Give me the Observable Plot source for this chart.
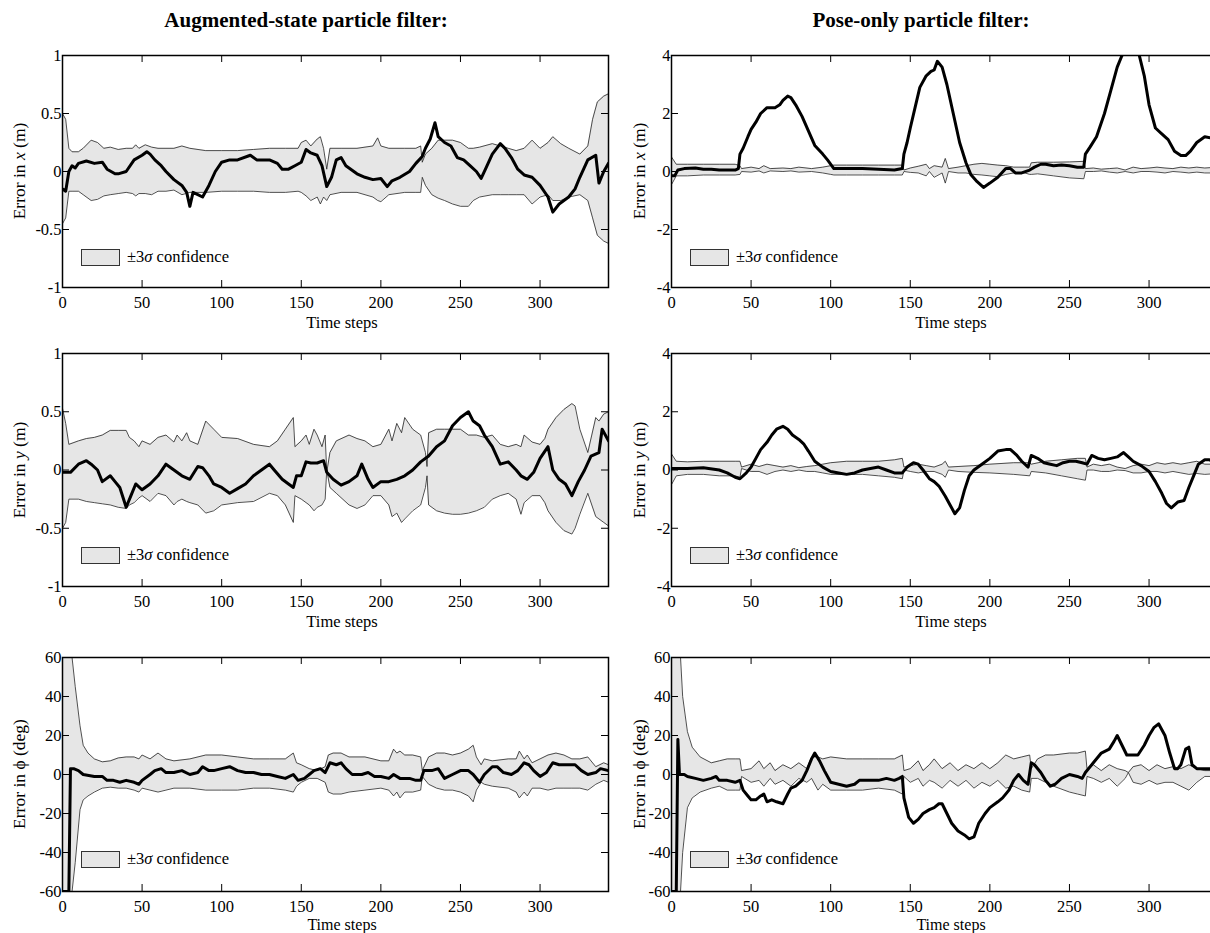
<!DOCTYPE html>
<html><head><meta charset="utf-8">
<script src="https://cdn.jsdelivr.net/npm/d3@7"></script>
<script src="https://cdn.jsdelivr.net/npm/@observablehq/plot@0.6"></script>
<style>
html,body{margin:0;padding:0;background:#fff;overflow:hidden;}
#fig{position:relative;width:1210px;height:933px;overflow:hidden;font-family:"Liberation Serif","Times New Roman",serif;color:#000;background:#fff;}
#fig svg text{font-family:"Liberation Serif","Times New Roman",serif !important;}
.abs{position:absolute;white-space:nowrap;line-height:1;}
.title{font-weight:bold;font-size:21px;transform:translate(-50%,-50%);}
.ylab{font-size:17.5px;transform:translate(-50%,-50%) rotate(-90deg);}
.xlab{font-size:16.5px;transform:translate(-50%,-50%);}
.xlab.last{font-size:16px;}
.leg{font-size:16.5px;display:flex;align-items:center;height:17px;}
.sw{display:inline-block;width:39px;height:17px;background:#e6e6e6;border:1px solid #333;box-sizing:border-box;margin-right:7px;}
</style></head>
<body><div id="fig"></div>
<script>
// ---------------- DATA ----------------
const timeTicks = [0, 50, 100, 150, 200, 250, 300];
const metreTicksAug = [-1, -0.5, 0, 0.5, 1];
const metreTicksPose = [-4, -2, 0, 2, 4];
const degTicks = [-60, -40, -20, 0, 20, 40, 60];

// Augmented-state, error in x
const augX_bandT = [0,2,4,6,10,13,18,22,26,30,35,40,44,46,48,52,56,60,65,70,75,80,90,100,110,120,130,140,148,150,153,156,160,162,164,166,168,175,185,195,198,200,205,215,222,225,226,228,232,236,240,245,250,255,258,262,270,275,280,285,290,295,300,305,308,313,318,325,330,333,336,340,343];
const augX_hi = [0.5,0.45,0.2,0.17,0.17,0.2,0.27,0.25,0.2,0.21,0.19,0.2,0.2,0.23,0.2,0.23,0.21,0.2,0.2,0.2,0.22,0.2,0.18,0.18,0.18,0.19,0.2,0.2,0.2,0.25,0.27,0.22,0.28,0.3,0.2,0.02,0.2,0.2,0.2,0.22,0.29,0.22,0.2,0.2,0.2,0.22,0.08,0.15,0.2,0.27,0.27,0.27,0.25,0.2,0.2,0.21,0.24,0.22,0.2,0.18,0.2,0.27,0.2,0.25,0.3,0.24,0.2,0.15,0.22,0.45,0.6,0.65,0.67];
const augX_lo = [-0.45,-0.4,-0.17,-0.17,-0.17,-0.2,-0.25,-0.24,-0.21,-0.2,-0.19,-0.18,-0.19,-0.21,-0.19,-0.19,-0.2,-0.17,-0.17,-0.16,-0.2,-0.18,-0.18,-0.17,-0.17,-0.17,-0.18,-0.18,-0.17,-0.18,-0.21,-0.25,-0.22,-0.28,-0.22,-0.25,-0.2,-0.18,-0.18,-0.22,-0.25,-0.26,-0.2,-0.18,-0.18,-0.18,-0.05,-0.12,-0.2,-0.23,-0.25,-0.28,-0.3,-0.3,-0.25,-0.22,-0.2,-0.2,-0.2,-0.2,-0.2,-0.28,-0.22,-0.2,-0.25,-0.25,-0.22,-0.2,-0.25,-0.4,-0.55,-0.6,-0.62];
const augX_err = [[0,-0.15],[2,-0.17],[4,0.0],[6,0.05],[8,0.03],[10,0.07],[15,0.09],[20,0.07],[25,0.08],[28,0.02],[33,-0.02],[35,-0.02],[40,0.0],[45,0.1],[50,0.14],[53,0.17],[55,0.15],[58,0.1],[62,0.05],[65,0.0],[70,-0.07],[75,-0.12],[78,-0.18],[80,-0.3],[82,-0.18],[85,-0.2],[88,-0.22],[92,-0.12],[96,0.0],[100,0.08],[105,0.1],[110,0.1],[118,0.14],[122,0.1],[130,0.1],[135,0.07],[138,0.02],[142,0.02],[146,0.05],[150,0.08],[153,0.19],[156,0.16],[160,0.14],[163,0.05],[166,-0.13],[169,-0.05],[172,0.1],[175,0.12],[178,0.05],[185,-0.02],[190,-0.05],[195,-0.07],[200,-0.06],[204,-0.13],[207,-0.08],[212,-0.05],[218,0.0],[222,0.07],[226,0.13],[228,0.2],[231,0.28],[234,0.42],[236,0.3],[240,0.25],[244,0.22],[248,0.12],[252,0.1],[256,0.05],[260,0.0],[263,-0.06],[266,0.03],[270,0.15],[275,0.24],[278,0.2],[282,0.12],[286,0.02],[290,-0.03],[295,-0.05],[300,-0.12],[305,-0.22],[308,-0.35],[312,-0.28],[318,-0.22],[322,-0.15],[325,-0.05],[330,0.1],[335,0.14],[337,-0.1],[340,0.0],[343,0.07]];

// Augmented-state, error in y
const augY_bandT = [0,2,4,10,15,20,25,30,35,40,42,45,48,50,55,60,65,70,72,75,78,80,85,90,95,100,110,120,130,135,140,145,146,150,153,155,158,160,163,165,166,168,172,180,185,190,195,200,205,207,210,213,215,220,225,228,229,230,235,240,245,250,255,260,265,270,275,280,285,288,290,295,300,303,305,310,315,320,322,325,330,335,337,340,343];
const augY_hi = [0.53,0.4,0.22,0.25,0.27,0.28,0.3,0.34,0.34,0.34,0.28,0.25,0.2,0.25,0.22,0.28,0.3,0.24,0.3,0.25,0.32,0.25,0.22,0.42,0.35,0.28,0.27,0.22,0.2,0.25,0.35,0.45,0.2,0.25,0.3,0.22,0.35,0.3,0.2,0.3,-0.02,0.15,0.25,0.3,0.27,0.25,0.2,0.22,0.35,0.25,0.4,0.32,0.45,0.35,0.3,0.15,0.03,0.32,0.35,0.35,0.35,0.35,0.3,0.3,0.28,0.3,0.22,0.2,0.22,0.2,0.3,0.24,0.22,0.27,0.35,0.45,0.52,0.57,0.55,0.35,0.15,0.45,0.42,0.48,0.5];
const augY_lo = [-0.5,-0.45,-0.25,-0.25,-0.27,-0.28,-0.29,-0.3,-0.32,-0.33,-0.3,-0.28,-0.24,-0.22,-0.27,-0.2,-0.22,-0.3,-0.27,-0.25,-0.27,-0.28,-0.3,-0.37,-0.35,-0.3,-0.28,-0.27,-0.2,-0.22,-0.3,-0.45,-0.22,-0.25,-0.28,-0.3,-0.35,-0.32,-0.3,-0.25,0.0,-0.15,-0.2,-0.3,-0.33,-0.3,-0.22,-0.22,-0.3,-0.4,-0.37,-0.45,-0.42,-0.35,-0.3,-0.15,-0.05,-0.3,-0.35,-0.37,-0.38,-0.38,-0.37,-0.35,-0.32,-0.25,-0.22,-0.2,-0.25,-0.38,-0.28,-0.22,-0.22,-0.28,-0.35,-0.45,-0.52,-0.55,-0.5,-0.38,-0.2,-0.4,-0.42,-0.45,-0.48];
const augY_err = [[0,-0.02],[5,-0.02],[10,0.05],[15,0.08],[18,0.05],[22,0.0],[25,-0.1],[30,-0.05],[33,-0.1],[36,-0.15],[40,-0.32],[43,-0.22],[46,-0.12],[50,-0.17],[55,-0.12],[60,-0.05],[65,0.05],[70,0.0],[75,-0.05],[80,-0.08],[85,0.03],[88,0.02],[92,-0.05],[95,-0.12],[100,-0.15],[105,-0.2],[110,-0.16],[115,-0.12],[120,-0.05],[125,0.0],[130,0.05],[133,0.0],[138,-0.08],[142,-0.12],[145,-0.15],[147,-0.05],[150,-0.05],[153,0.07],[156,0.06],[160,0.06],[164,0.08],[166,-0.02],[170,-0.08],[175,-0.13],[180,-0.1],[185,-0.05],[188,0.05],[192,-0.08],[195,-0.15],[200,-0.1],[205,-0.1],[210,-0.08],[215,-0.05],[220,0.0],[225,0.07],[230,0.12],[235,0.2],[240,0.25],[245,0.38],[250,0.45],[255,0.5],[258,0.42],[262,0.38],[265,0.3],[270,0.2],[275,0.05],[280,0.07],[285,0.0],[288,-0.05],[292,-0.08],[296,-0.02],[300,0.1],[305,0.2],[308,0.0],[312,-0.08],[316,-0.12],[320,-0.22],[324,-0.1],[328,0.0],[332,0.12],[337,0.15],[339,0.35],[343,0.25]];

// Augmented-state, error in phi
const augP_bandT = [0,5,6,8,11,13,16,20,25,30,35,40,45,48,50,55,60,65,70,80,90,100,110,120,130,140,145,147,150,155,160,165,167,170,175,180,190,200,205,208,210,212,215,220,225,226,230,235,240,245,250,255,258,260,263,265,270,280,285,287,290,292,295,300,305,310,315,320,325,330,335,340,343];
const augP_hi = [70,70,60,45,25,15,11,8,6.5,7,8.5,9,9,8,10,8,11,8,7,8,10,10,9,8,8,8,11,6,5,3,2,4,10,11,11,9,9,7,7,13,11,12,10,10,9,2,9,11,11,10,11,13,15,9,5,8,7,8,8,12,8,10,6,8,10,11,10,8,8,9,4,6,5];
const augP_lo = [-70,-70,-60,-45,-18,-13,-11,-9,-7,-6.5,-7,-7,-8,-9,-7,-8,-9,-8,-7,-7,-8,-8,-8,-7,-7,-8,-9,-6,-4,-2,-2,-4,-9,-10,-10,-9,-8,-7,-8,-11,-9,-12,-9,-9,-8,-1,-5,-7,-8,-8,-9,-11,-14,-8,-4,-5,-6,-7,-9,-12,-9,-11,-7,-7,-8,-7,-7,-7,-7,-8,-5,-3,-4];
const augP_err = [[0,-60],[4,-60],[5,3],[7,3],[10,2],[13,0],[20,-1],[25,-1],[28,-3],[32,-3],[36,-4],[40,-3],[45,-4],[48,-5],[50,-3],[55,0],[58,2],[62,3],[65,1],[70,1],[75,2],[80,0],[85,1],[88,4],[92,2],[95,2],[100,3],[105,4],[110,2],[115,1],[120,1],[125,0],[130,0],[135,-1],[140,-2],[145,0],[148,-3],[152,-2],[155,0],[158,2],[162,3],[165,1],[168,6],[172,5],[175,6],[178,3],[182,0],[188,0],[192,1],[196,-1],[200,-1],[205,-2],[208,0],[212,-2],[218,-2],[222,-3],[225,-3],[227,2],[232,2],[236,3],[240,-2],[245,0],[250,2],[255,2],[258,0],[262,-4],[265,0],[270,4],[273,4],[277,1],[282,0],[286,2],[290,6],[293,5],[296,2],[300,-1],[304,1],[308,6],[312,5],[318,5],[322,5],[326,2],[330,0],[335,1],[338,3],[343,2]];

// Pose-only, error in x
const poseX_bandT = [0,3,10,20,30,40,43,44,50,55,58,62,70,75,80,88,95,100,102,110,120,130,140,145,146,150,155,160,162,165,170,172,174,180,185,190,195,200,205,210,215,222,225,226,230,240,250,259,260,265,270,275,280,285,290,295,300,305,310,315,320,325,330,335,343];
const poseX_hi = [0.5,0.25,0.25,0.25,0.25,0.25,0.2,0.1,0.15,0.1,0.2,0.1,0.12,0.1,0.15,0.1,0.15,0.2,0.22,0.22,0.22,0.22,0.22,0.22,0.05,0.12,0.18,0.25,0.1,0.2,0.15,0.45,0.1,0.15,0.2,0.25,0.28,0.25,0.22,0.2,0.15,0.15,0.15,0.3,0.32,0.32,0.33,0.35,0.1,0.12,0.08,0.1,0.12,0.05,0.15,0.1,0.12,0.15,0.12,0.1,0.15,0.12,0.15,0.12,0.15];
const poseX_lo = [-0.45,-0.15,-0.15,-0.12,-0.12,-0.12,-0.1,0.0,-0.02,0.02,-0.05,0.02,0.0,0.02,-0.02,0.0,-0.05,-0.1,-0.12,-0.12,-0.12,-0.12,-0.12,-0.12,0.0,-0.03,-0.05,-0.15,0.0,-0.2,-0.05,-0.4,0.0,-0.05,-0.05,-0.1,-0.12,-0.15,-0.18,-0.1,-0.05,-0.05,-0.1,-0.1,-0.08,-0.15,-0.22,-0.25,0.0,0.0,0.02,-0.02,-0.05,0.0,-0.05,0.0,0.0,-0.02,-0.05,0.0,-0.02,-0.05,-0.02,-0.05,-0.05];
const poseX_err = [[0,-0.15],[2,-0.15],[4,0.05],[8,0.1],[15,0.12],[20,0.08],[25,0.08],[30,0.05],[35,0.05],[40,0.05],[42,0.1],[43,0.6],[45,0.8],[48,1.2],[50,1.45],[53,1.7],[56,2.0],[60,2.2],[65,2.2],[68,2.3],[70,2.45],[73,2.6],[75,2.55],[78,2.3],[82,1.9],[86,1.4],[90,0.9],[95,0.6],[98,0.4],[102,0.1],[110,0.1],[120,0.1],[130,0.08],[140,0.05],[145,0.1],[146,0.6],[148,1.0],[150,1.5],[153,2.2],[156,2.9],[160,3.3],[163,3.45],[165,3.5],[167,3.8],[170,3.6],[173,3.0],[177,2.0],[181,1.0],[185,0.3],[188,-0.1],[192,-0.35],[196,-0.55],[200,-0.4],[205,-0.2],[210,0.1],[213,0.1],[216,-0.05],[220,-0.05],[225,0.05],[228,0.15],[232,0.25],[235,0.25],[240,0.2],[245,0.22],[250,0.2],[255,0.15],[259,0.15],[260,0.6],[263,0.85],[267,1.2],[272,2.0],[276,2.8],[280,3.6],[283,4.0],[287,4.3],[290,4.3],[293,4.2],[297,3.3],[300,2.3],[304,1.5],[308,1.3],[312,1.1],[316,0.7],[320,0.55],[323,0.55],[326,0.7],[330,1.0],[335,1.2],[340,1.15],[343,1.2]];

// Pose-only, error in y
const poseY_bandT = [0,3,10,20,30,40,43,44,50,55,60,65,70,75,80,85,90,95,100,110,120,130,140,145,146,150,155,160,165,170,172,174,180,190,200,215,225,226,235,245,255,260,261,265,270,275,280,285,290,295,300,305,310,315,320,325,330,335,343];
const poseY_hi = [0.55,0.3,0.28,0.3,0.3,0.3,0.3,0.1,0.2,0.12,0.2,0.15,0.1,0.15,0.08,0.12,0.15,0.2,0.25,0.3,0.3,0.3,0.35,0.4,0.1,0.15,0.2,0.15,0.1,0.2,0.3,0.1,0.12,0.15,0.2,0.25,0.25,0.2,0.3,0.35,0.4,0.4,0.1,0.2,0.15,0.2,0.1,0.05,0.15,0.2,0.15,0.25,0.2,0.25,0.2,0.25,0.3,0.2,0.2];
const poseY_lo = [-0.5,-0.2,-0.15,-0.15,-0.2,-0.2,-0.25,0.05,-0.05,-0.05,-0.15,-0.05,0.0,-0.05,0.0,-0.05,-0.05,-0.1,-0.15,-0.15,-0.15,-0.2,-0.25,-0.3,0.0,-0.05,-0.1,-0.05,-0.05,-0.15,-0.25,0.0,-0.05,-0.08,-0.1,-0.15,-0.2,-0.05,-0.1,-0.2,-0.3,-0.35,0.0,0.0,-0.05,-0.05,0.0,-0.02,-0.1,-0.1,-0.05,-0.05,-0.1,-0.05,-0.1,-0.15,-0.12,-0.15,-0.12];
const poseY_err = [[0,0.05],[10,0.05],[20,0.08],[30,0.0],[35,-0.1],[40,-0.25],[43,-0.3],[47,-0.1],[50,0.1],[53,0.4],[56,0.7],[60,0.95],[63,1.2],[66,1.4],[70,1.5],[73,1.4],[76,1.2],[80,1.05],[83,0.9],[86,0.65],[90,0.3],[95,0.1],[100,-0.05],[105,-0.1],[110,-0.15],[115,-0.1],[120,0.0],[125,0.05],[130,0.1],[135,0.0],[140,-0.1],[145,-0.1],[148,0.1],[152,0.25],[155,0.2],[158,0.0],[162,-0.3],[165,-0.4],[168,-0.55],[172,-0.9],[175,-1.2],[178,-1.5],[181,-1.3],[184,-0.7],[187,-0.2],[190,0.0],[195,0.2],[200,0.4],[205,0.65],[210,0.7],[213,0.7],[217,0.5],[220,0.3],[224,0.1],[226,0.5],[230,0.4],[234,0.25],[238,0.2],[242,0.15],[246,0.25],[250,0.3],[254,0.3],[258,0.25],[261,0.2],[264,0.5],[268,0.4],[272,0.35],[276,0.4],[280,0.45],[284,0.6],[287,0.45],[290,0.3],[295,0.15],[300,-0.05],[304,-0.4],[308,-0.8],[311,-1.15],[314,-1.3],[318,-1.1],[322,-1.05],[325,-0.6],[328,-0.2],[331,0.2],[335,0.35],[338,0.35],[340,0.3],[343,0.35]];

// Pose-only, error in phi
const poseP_bandT = [0,5,7,10,13,18,25,30,35,40,43,44,50,55,58,62,65,70,75,80,85,88,92,95,100,110,120,130,140,145,146,150,155,158,162,165,170,175,180,185,190,195,200,205,210,215,220,225,226,230,235,240,250,255,260,261,265,270,275,280,285,287,290,295,300,305,310,315,320,325,330,335,343];
const poseP_hi = [70,70,40,22,14,9,6,7,8,8,8,2,3,7,3,6,2,5,3,6,3,9,9,8,9,8,8,8,8,10,2,3,7,2,5,8,3,6,2,5,3,6,3,6,10,8,9,10,3,8,10,10,11,11,12,3,5,2,5,3,2,1,4,5,2,5,3,4,3,5,3,2,2];
const poseP_lo = [-70,-70,-40,-17,-12,-9,-7,-6,-8,-8,-8,-1,-4,-3,-6,-2,-5,-3,-6,-2,-4,-2,-8,-5,-8,-8,-8,-7,-8,-10,-1,-4,-2,-6,-3,-4,-7,-3,-6,-3,-7,-4,-6,-3,-7,-6,-8,-9,-2,-2,-4,-6,-9,-10,-11,-1,-2,-4,-2,-6,-2,1,-4,-5,-3,-5,-4,-4,-6,-8,-4,-1,-1];
const poseP_err = [[0,-60],[3,-60],[4,18],[5,0],[8,0],[10,-1],[15,-2],[20,-3],[25,-2],[28,-1],[30,-3],[35,-3],[40,-4],[43,-3],[45,-8],[48,-11],[50,-13],[53,-13],[56,-11],[58,-10],[60,-14],[63,-13],[66,-14],[70,-15],[73,-10],[75,-7],[78,-6],[82,-3],[85,2],[88,8],[90,11],[93,7],[96,2],[100,-4],[105,-5],[110,-6],[115,-5],[118,-3],[125,-3],[130,-3],[135,-2],[140,-3],[143,-2],[145,-1],[146,-12],[149,-22],[152,-25],[155,-23],[158,-20],[162,-18],[165,-17],[168,-15],[170,-15],[173,-20],[176,-25],[180,-29],[184,-31],[187,-33],[190,-32],[193,-25],[197,-20],[200,-17],[205,-14],[208,-12],[212,-8],[215,-3],[218,0],[221,-3],[224,-5],[226,6],[228,5],[232,1],[235,-3],[238,-6],[241,-5],[245,-2],[250,0],[255,-1],[258,-2],[260,1],[265,6],[270,11],[275,13],[278,17],[280,20],[283,15],[286,10],[290,10],[293,10],[297,15],[300,20],[303,24],[306,26],[310,20],[313,11],[316,3],[318,3],[320,5],[323,13],[325,14],[327,5],[330,3],[335,3],[343,3]];

const titles = ["Augmented-state particle filter:", "Pose-only particle filter:"];
const xLabel = "Time steps";
const yLabels = ["Error in <i>x</i> (m)", "Error in <i>y</i> (m)", "Error in \u03D5 (deg)"];
const legendLabel = "\u00B13<i>\u03C3</i> confidence";

// ---------------- LAYOUT ----------------
const colLeft = [62, 671];
const rowTop = [55, 353, 657];
const rowH = [232, 233, 234];
const xLabelY = [323, 622, 925];
const plotW = 546;
const mT = 10, mB = 45, mL = 62, mR = 4;
const tickLen = 7;
const serif = "Liberation Serif";

const panels = [
  {col:0,row:0,bandT:augX_bandT,hi:augX_hi,lo:augX_lo,err:augX_err,dom:[-1,1],ticks:metreTicksAug},
  {col:0,row:1,bandT:augY_bandT,hi:augY_hi,lo:augY_lo,err:augY_err,dom:[-1,1],ticks:metreTicksAug},
  {col:0,row:2,bandT:augP_bandT,hi:augP_hi,lo:augP_lo,err:augP_err,dom:[-60,60],ticks:degTicks},
  {col:1,row:0,bandT:poseX_bandT,hi:poseX_hi,lo:poseX_lo,err:poseX_err,dom:[-4,4],ticks:metreTicksPose},
  {col:1,row:1,bandT:poseY_bandT,hi:poseY_hi,lo:poseY_lo,err:poseY_err,dom:[-4,4],ticks:metreTicksPose},
  {col:1,row:2,bandT:poseP_bandT,hi:poseP_hi,lo:poseP_lo,err:poseP_err,dom:[-60,60],ticks:degTicks}
];

const fig = document.getElementById("fig");
function addDiv(cls, html, left, top) {
  const d = document.createElement("div");
  d.className = "abs " + cls;
  d.innerHTML = html;
  d.style.left = left + "px";
  d.style.top = top + "px";
  fig.appendChild(d);
  return d;
}

for (const p of panels) {
  const H = rowH[p.row];
  const band = p.bandT.map((t, i) => ({t, lo: p.lo[i], hi: p.hi[i]}));
  const err = p.err.map(([t, v]) => ({t, v}));
  const svg = Plot.plot({
    width: mL + plotW + mR,
    height: mT + H + mB,
    marginLeft: mL, marginRight: mR, marginTop: mT, marginBottom: mB,
    x: {domain: [0, 343]},
    y: {domain: p.dom},
    style: {fontFamily: serif, fontSize: "16.5px", color: "#000", background: "transparent", overflow: "visible"},
    marks: [
      Plot.areaY(band, {x: "t", y1: "lo", y2: "hi", fill: "#e6e6e6", clip: true}),
      Plot.lineY(band, {x: "t", y: "hi", stroke: "#222", strokeWidth: 0.8, clip: true}),
      Plot.lineY(band, {x: "t", y: "lo", stroke: "#222", strokeWidth: 0.8, clip: true}),
      Plot.lineY(err, {x: "t", y: "v", stroke: "#000", strokeWidth: 3, strokeLinejoin: "round", clip: true}),
      Plot.tickX(timeTicks, {x: d => d, insetBottom: H - tickLen, stroke: "#000", strokeWidth: 1}),
      Plot.tickX(timeTicks, {x: d => d, insetTop: H - tickLen, stroke: "#000", strokeWidth: 1}),
      Plot.tickY(p.ticks, {y: d => d, insetRight: plotW - tickLen, stroke: "#000", strokeWidth: 1}),
      Plot.tickY(p.ticks, {y: d => d, insetLeft: plotW - tickLen, stroke: "#000", strokeWidth: 1}),
      Plot.frame({stroke: "#000", strokeWidth: 1.5}),
      Plot.axisX(timeTicks, {tickSize: 0, tickPadding: 9, tickFormat: d => String(d), label: null, fontFamily: serif, fontSize: 16.5, fill: "#000"}),
      Plot.axisY(p.ticks, {tickSize: 0, tickPadding: 1, tickFormat: d => String(d), label: null, fontFamily: serif, fontSize: 16.5, fill: "#000"})
    ]
  });
  svg.style.position = "absolute";
  svg.style.left = (colLeft[p.col] - mL) + "px";
  svg.style.top = (rowTop[p.row] - mT) + "px";
  fig.appendChild(svg);

  addDiv("ylab", yLabels[p.row], p.col === 0 ? 19.5 : 640, rowTop[p.row] + H / 2);
  addDiv("xlab" + (p.row === 2 ? " last" : ""), xLabel, colLeft[p.col] + 280, xLabelY[p.row]);
  addDiv("leg", '<span class="sw"></span><span>' + legendLabel + '</span>', colLeft[p.col] + 19, rowTop[p.row] + 194);
}
addDiv("title", titles[0], 306, 20);
addDiv("title", titles[1], 921, 20);
</script>
</body></html>
